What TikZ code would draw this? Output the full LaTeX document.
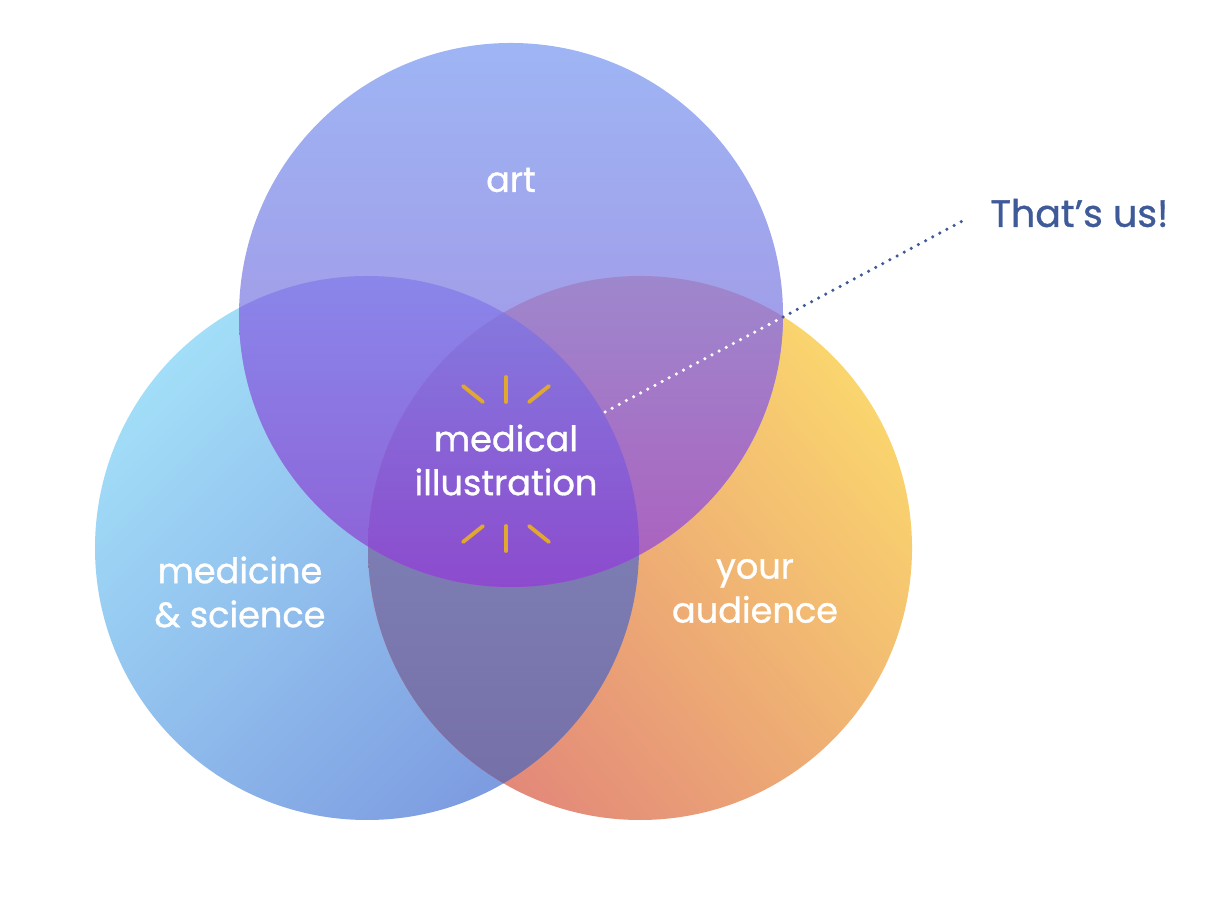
\documentclass[tikz,border=0pt]{standalone}
\usepackage{fontspec}
\setmainfont{Poppins}[FakeBold=0.9]
\usetikzlibrary{calc}

\definecolor{medlight}{HTML}{A2DEF8}
\definecolor{meddark}{HTML}{7C9AE0}
\definecolor{audlight}{HTML}{FAD56E}
\definecolor{auddark}{HTML}{E2867A}
\definecolor{arttop}{HTML}{9EB5F4}
\definecolor{artbot}{HTML}{A488DE}
\definecolor{raycol}{HTML}{E0A830}
\definecolor{uscol}{HTML}{3F5A98}

\begin{document}
\begin{tikzpicture}[
    lbl/.style={text=white, font=\fontsize{10}{12.5}\selectfont, align=center},
    ray/.style={draw=raycol, line width=1.1pt, line cap=round},
    dots/.style={line width=1pt, line cap=round, dash pattern=on 0pt off 2.3pt}]
  \useasboundingbox (0,0) rectangle (12.28,9.04);
  % circle centres, radius 2.72
  \coordinate (art) at (5.11,5.89);
  \coordinate (med) at (3.67,3.56);
  \coordinate (aud) at (6.40,3.56);
  \def\rad{2.72}
  \shade[top color=medlight, bottom color=meddark, shading angle=45] (med) circle (\rad);
  \shade[top color=audlight, bottom color=auddark, shading angle=-50] (aud) circle (\rad);
  \shade[top color=arttop, bottom color=artbot] (art) circle (\rad);
  % medicine & audience
  \begin{scope}
    \clip (med) circle (\rad);
    \clip (aud) circle (\rad);
    \shade[top color={rgb,255:red,130;green,138;blue,190}, bottom color={rgb,255:red,118;green,112;blue,168}] (0,1.21) rectangle (12.28,5.91);
  \end{scope}
  % art & medicine
  \begin{scope}
    \clip (art) circle (\rad);
    \clip (med) circle (\rad);
    \shade[top color={rgb,255:red,138;green,134;blue,234}, bottom color={rgb,255:red,142;green,96;blue,214}] (0,3.17) rectangle (12.28,6.28);
  \end{scope}
  % art & audience
  \begin{scope}
    \clip (art) circle (\rad);
    \clip (aud) circle (\rad);
    \shade[top color={rgb,255:red,158;green,135;blue,205}, bottom color={rgb,255:red,172;green,95;blue,190}] (0,3.17) rectangle (12.28,6.28);
  \end{scope}
  % all three
  \begin{scope}
    \clip (art) circle (\rad);
    \clip (med) circle (\rad);
    \clip (aud) circle (\rad);
    \shade[top color={rgb,255:red,133;green,120;blue,222}, bottom color={rgb,255:red,140;green,75;blue,205}] (0,3.17) rectangle (12.28,5.91);
  \end{scope}

  \node[lbl] (artlbl) at (5.11,7.24) {art};
  \node[lbl] (medlbl) at (2.40,3.12) {medicine\\\& science};
  \node[lbl] (audlbl) at (7.55,3.13) {your\\audience};
  \node[lbl] (milbl) at (5.06,4.44) {medical\\illustration};
  \node[text=uscol, font=\fontsize{10.8}{13}\selectfont, anchor=west] (us) at (9.78,6.91) {That’s us!};

  % sparkle rays above and below
  \coordinate (spark) at (5.06,4.40);
  \foreach \s in {1,-1} {
    \draw[ray] ($(spark)+(0,0.62*\s)$) -- ($(spark)+(0,0.87*\s)$);
    \draw[ray] ($(spark)+(-0.23,0.62*\s)$) -- ($(spark)+(-0.43,0.78*\s)$);
    \draw[ray] ($(spark)+(0.23,0.62*\s)$) -- ($(spark)+(0.43,0.78*\s)$);
  }

  % pointer
  \coordinate (from) at (6.05,4.92);
  \coordinate (cross) at (7.83,5.87);
  \coordinate (tip) at (9.68,6.86);
  \draw[dots, white] (from) -- (cross);
  \draw[dots, uscol] (cross) -- (tip);
\end{tikzpicture}
\end{document}
